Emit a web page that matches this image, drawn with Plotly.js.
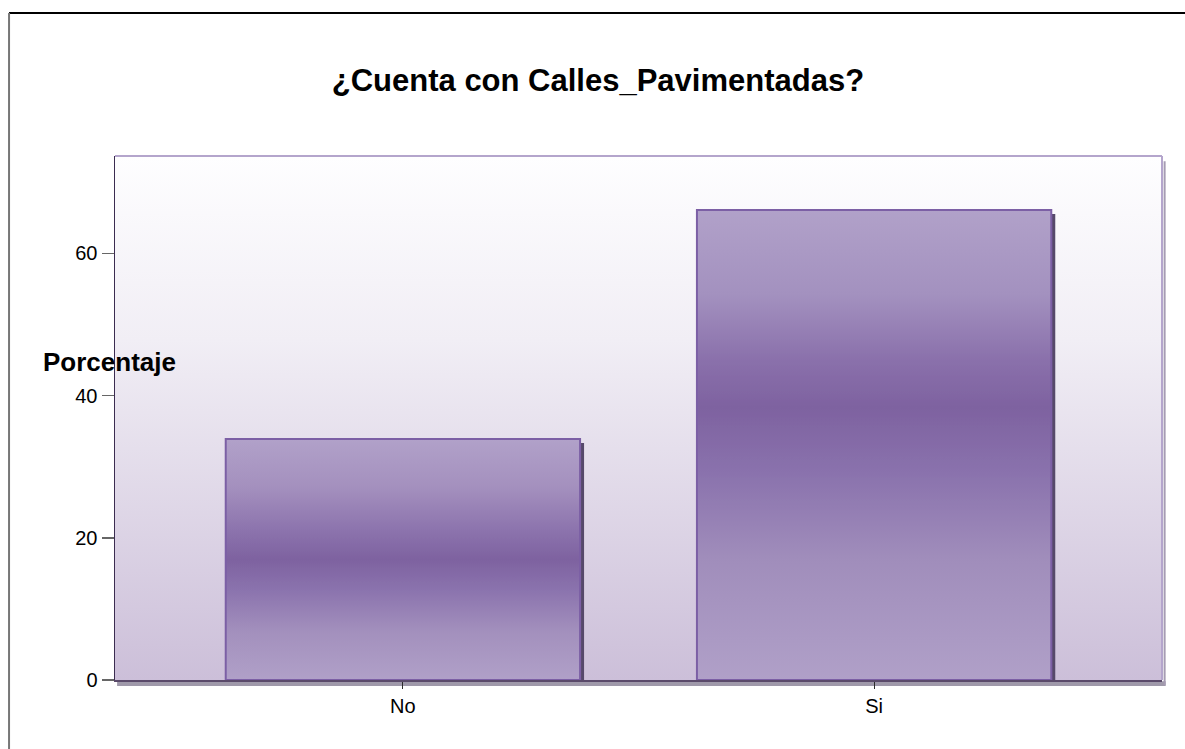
<!DOCTYPE html>
<html>
<head>
<meta charset="utf-8">
<script src="https://cdn.plot.ly/plotly-3.0.1.min.js"></script>
<style>
html,body{margin:0;padding:0;background:#fff;}
#chart{width:1185px;height:749px;}
</style>
</head>
<body>
<div id="chart"></div>
<script>
// Data
const categories = ["No", "Si"];
const percentages = [33.9, 66.1];
const yTickValues = [0, 20, 40, 60];
const yTickLabels = ["0", "20", "40", "60"];
const chartTitle = "¿Cuenta con Calles_Pavimentadas?";
const yTitle = "Porcentaje";

const FONT = "Liberation Sans, Arial, sans-serif";

const trace = {
  type: "bar",
  x: categories,
  y: percentages,
  width: 0.752,
  cliponaxis: false,
  marker: {color: "#9580b5", line: {color: "#7b5fa5", width: 2}},
  hoverinfo: "x+y"
};

const layout = {
  width: 1185,
  height: 749,
  margin: {l: 115, r: 23, t: 156, b: 69},
  paper_bgcolor: "#ffffff",
  plot_bgcolor: "#e8e2ee",
  showlegend: false,
  font: {family: FONT, size: 20, color: "#000"},
  title: {
    text: "<b>" + chartTitle + "</b>",
    font: {family: FONT, size: 31, color: "#000"},
    xref: "container", x: 0.5046, xanchor: "center",
    yref: "container", y: 0.893, yanchor: "middle"
  },
  xaxis: {
    type: "category",
    range: [-0.611, 1.611],
    showgrid: false,
    zeroline: false,
    showline: true, linecolor: "#5a4a6a", linewidth: 2,
    ticks: "outside", ticklen: 7, tickcolor: "#2a2a2a", tickwidth: 1,
    tickfont: {family: FONT, size: 20, color: "#000"},
    fixedrange: true
  },
  yaxis: {
    range: [0, 73.7],
    tickvals: yTickValues,
    ticktext: yTickLabels,
    showgrid: false,
    zeroline: false,
    showline: true, linecolor: "#3b2c50", linewidth: 1.5,
    ticks: "outside", ticklen: 12, tickcolor: "#666", tickwidth: 1.5,
    tickfont: {family: FONT, size: 20, color: "#000"},
    fixedrange: true
  },
  annotations: [{
    text: "<b>" + yTitle + "</b>",
    xref: "paper", yref: "paper",
    x: -0.0057, y: 0.607, xanchor: "center", yanchor: "middle",
    showarrow: false,
    font: {family: FONT, size: 26, color: "#000"}
  }],
  shapes: [
    // outer frame
    {type: "line", xref: "paper", yref: "paper", x0: -0.1012, x1: 1.03, y0: 1.2729, y1: 1.2729,
     line: {color: "#000", width: 2}},
    {type: "line", xref: "paper", yref: "paper", x0: -0.1012, x1: -0.1012, y0: 1.2729, y1: -0.2,
     line: {color: "#777", width: 2}},
    // plot area top/right border
    {type: "line", xref: "paper", yref: "paper", x0: 0, x1: 1, y0: 1, y1: 1,
     line: {color: "#b4a5cc", width: 2}},
    {type: "line", xref: "paper", yref: "paper", x0: 1, x1: 1, y0: 1, y1: 0,
     line: {color: "#b4a5cc", width: 2}},
    {type: "line", xref: "paper", yref: "paper", x0: 1.0025, x1: 1.0025, y0: 0.99, y1: -0.01,
     line: {color: "#a69cb3", width: 2}},
    // bottom shadow band
    {type: "rect", xref: "paper", yref: "paper", x0: 0.002, x1: 1.0035, y0: -0.0025, y1: -0.0115,
     fillcolor: "#9f99aa", line: {width: 0}, layer: "below"}
  ]
};

Plotly.newPlot("chart", [trace], layout, {displayModeBar: false, staticPlot: true}).then(function (gd) {
  const svgNS = "http://www.w3.org/2000/svg";
  const svg = gd.querySelector("svg.main-svg");
  let defs = svg.querySelector("defs");
  if (!defs) { defs = document.createElementNS(svgNS, "defs"); svg.insertBefore(defs, svg.firstChild); }

  function grad(id, stops) {
    const g = document.createElementNS(svgNS, "linearGradient");
    g.setAttribute("id", id);
    g.setAttribute("x1", "0"); g.setAttribute("y1", "0");
    g.setAttribute("x2", "0"); g.setAttribute("y2", "1");
    stops.forEach(function (s) {
      const st = document.createElementNS(svgNS, "stop");
      st.setAttribute("offset", s[0]);
      st.setAttribute("stop-color", s[1]);
      g.appendChild(st);
    });
    defs.appendChild(g);
  }
  grad("bgGrad", [[0, "#fefeff"], [0.35, "#f1eef5"], [1, "#ccbfd9"]]);
  grad("barGrad0", [[0, "#b1a1c9"], [0.2, "#a490be"], [0.38, "#8c73ad"], [0.5, "#7e62a0"],
                    [0.62, "#8a72ad"], [0.8, "#a390bd"], [1, "#b0a0c8"]]);
  grad("barGrad1", [[0, "#b1a1c9"], [0.18, "#a391bf"], [0.32, "#8a70ab"], [0.42, "#7e62a0"],
                    [0.56, "#8a72ad"], [0.74, "#a08dbb"], [1, "#b0a0c8"]]);

  const f = document.createElementNS(svgNS, "filter");
  f.setAttribute("id", "barShadow");
  f.setAttribute("x", "-5%"); f.setAttribute("y", "-5%");
  f.setAttribute("width", "115%"); f.setAttribute("height", "115%");
  const ds = document.createElementNS(svgNS, "feDropShadow");
  ds.setAttribute("dx", "3"); ds.setAttribute("dy", "5");
  ds.setAttribute("stdDeviation", "0");
  ds.setAttribute("flood-color", "#574a6b");
  ds.setAttribute("flood-opacity", "1");
  f.appendChild(ds);
  defs.appendChild(f);

  const bg = gd.querySelector(".bglayer rect.bg");
  if (bg) bg.style.fill = "url(#bgGrad)";

  const bars = gd.querySelectorAll(".barlayer .point path");
  bars.forEach(function (p, i) {
    p.style.fill = "url(#barGrad" + i + ")";
    p.setAttribute("filter", "url(#barShadow)");
  });
});
</script>
</body>
</html>
